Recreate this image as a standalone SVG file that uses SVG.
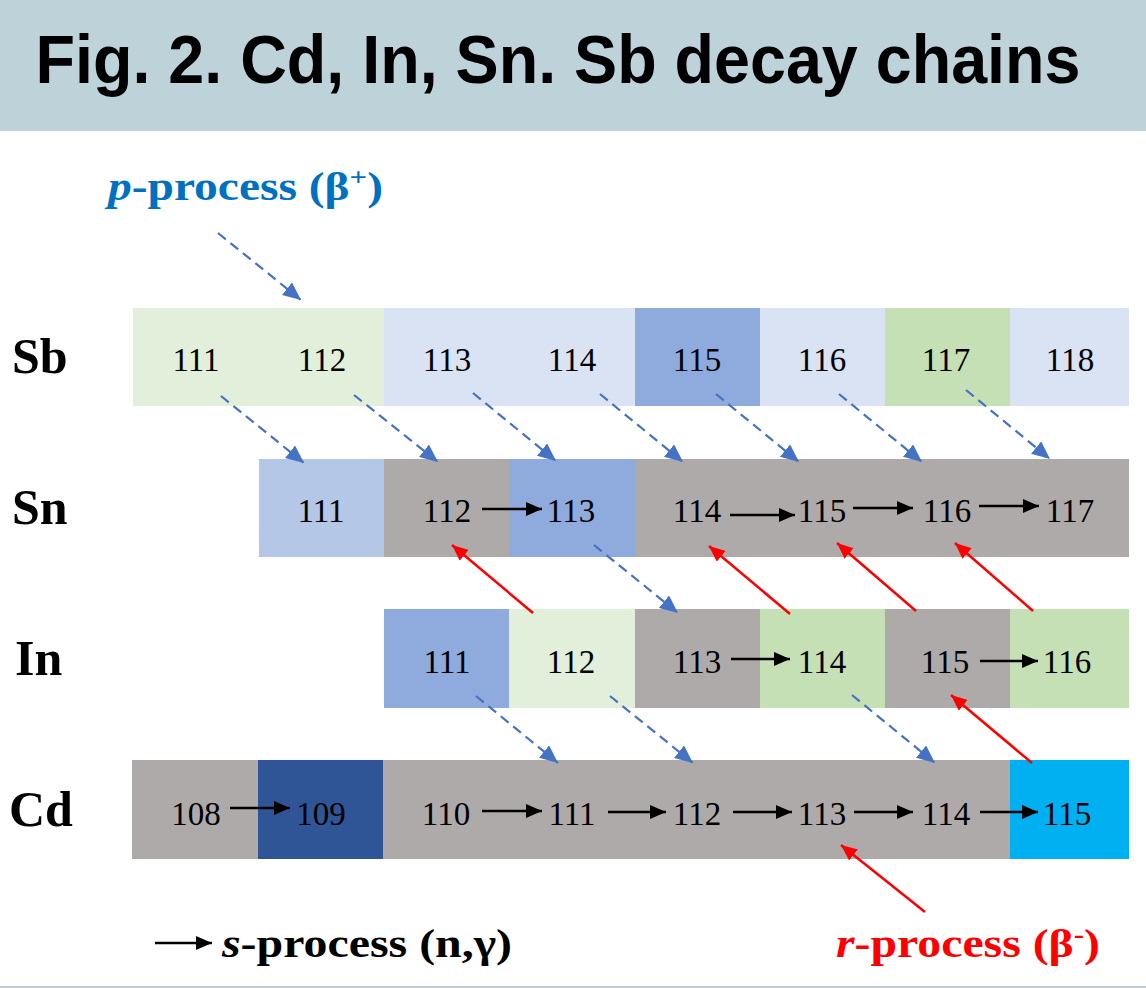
<svg xmlns="http://www.w3.org/2000/svg" width="1146" height="988" viewBox="0 0 1146 988">
  <style>
    .title { font-family: "Liberation Sans", Arial, sans-serif; font-weight: bold; font-size: 68px; fill: #000; }
    .elem { font-family: "Liberation Serif", "Times New Roman", serif; font-weight: bold; font-size: 50px; fill: #000; }
    .num { font-family: "Liberation Serif", "Times New Roman", serif; font-size: 33px; fill: #000; text-anchor: middle; }
    .legend { font-family: "Liberation Serif", "Times New Roman", serif; font-weight: bold; font-size: 40px; }
    .pblue { fill: #0070c0; }
    .rred { fill: #ff0000; }
    .sblack { fill: #000; }
    .gray { fill: #aeaaaa; }
    .lgreen { fill: #e2efda; }
    .mgreen { fill: #c5e0b4; }
    .lblue { fill: #dae3f3; }
    .pblue2 { fill: #b4c7e7; }
    .mblue { fill: #8faadc; }
    .dblue { fill: #2f5597; }
    .cyan { fill: #00b0f0; }
    .beta-plus { stroke: #4472c4; stroke-width: 2.2; stroke-dasharray: 10 6; fill: none; marker-end: url(#headBlue); }
    .beta-minus { stroke: #ff0000; stroke-width: 2.5; fill: none; marker-end: url(#headRed); }
    .capture { stroke: #000; stroke-width: 2.5; fill: none; marker-end: url(#headBlack); }
  </style>
  <defs>
    <marker id="headBlue" markerUnits="userSpaceOnUse" viewBox="0 0 18 16" markerWidth="18" markerHeight="16" refX="18" refY="8" orient="auto">
      <path d="M0,0 L18,8 L0,16 z" fill="#4472c4"/>
    </marker>
    <marker id="headRed" markerUnits="userSpaceOnUse" viewBox="0 0 16 14" markerWidth="16" markerHeight="14" refX="16" refY="7" orient="auto">
      <path d="M0,0 L16,7 L0,14 z" fill="#ff0000"/>
    </marker>
    <marker id="headBlack" markerUnits="userSpaceOnUse" viewBox="0 0 16 14" markerWidth="16" markerHeight="14" refX="16" refY="7" orient="auto">
      <path d="M0,0 L16,7 L0,14 z" fill="#000"/>
    </marker>
  </defs>

  <rect width="1146" height="988" fill="#ffffff"/>

  <!-- title bar -->
  <g id="title">
    <rect x="0" y="0" width="1146" height="131" fill="#bed2da"/>
    <text class="title" x="558" y="83" text-anchor="middle" textLength="1045" lengthAdjust="spacingAndGlyphs">Fig. 2. Cd, In, Sn. Sb decay chains</text>
  </g>

  <!-- element row labels -->
  <g id="labels">
    <text class="elem" x="12" y="373">Sb</text>
    <text class="elem" x="12" y="524">Sn</text>
    <text class="elem" x="15" y="675">In</text>
    <text class="elem" x="9" y="826">Cd</text>
  </g>

  <!-- Sb row -->
  <g id="row-Sb">
    <rect class="lgreen" x="133" y="308" width="126" height="98"/>
    <rect class="lgreen" x="258" y="308" width="126" height="98"/>
    <rect class="lblue" x="384" y="308" width="126" height="98"/>
    <rect class="lblue" x="509" y="308" width="126" height="98"/>
    <rect class="mblue" x="635" y="308" width="126" height="98"/>
    <rect class="lblue" x="760" y="308" width="126" height="98"/>
    <rect class="mgreen" x="885" y="308" width="126" height="98"/>
    <rect class="lblue" x="1010" y="308" width="119" height="98"/>
    <text class="num" x="196" y="371">111</text>
    <text class="num" x="322" y="371">112</text>
    <text class="num" x="447" y="371">113</text>
    <text class="num" x="572" y="371">114</text>
    <text class="num" x="697" y="371">115</text>
    <text class="num" x="822" y="371">116</text>
    <text class="num" x="946" y="371">117</text>
    <text class="num" x="1070" y="371">118</text>
  </g>

  <!-- Sn row -->
  <g id="row-Sn">
    <rect class="pblue2" x="259" y="459" width="126" height="98"/>
    <rect class="gray" x="384" y="459" width="126" height="98"/>
    <rect class="mblue" x="509" y="459" width="126" height="98"/>
    <rect class="gray" x="635" y="459" width="494" height="98"/>
    <text class="num" x="321" y="522">111</text>
    <text class="num" x="447" y="522">112</text>
    <text class="num" x="571" y="522">113</text>
    <text class="num" x="697" y="522">114</text>
    <text class="num" x="822" y="522">115</text>
    <text class="num" x="947" y="522">116</text>
    <text class="num" x="1070" y="522">117</text>
  </g>

  <!-- In row -->
  <g id="row-In">
    <rect class="mblue" x="384" y="609" width="126" height="99"/>
    <rect class="lgreen" x="509" y="609" width="126" height="99"/>
    <rect class="gray" x="635" y="609" width="126" height="99"/>
    <rect class="mgreen" x="760" y="609" width="126" height="99"/>
    <rect class="gray" x="885" y="609" width="126" height="99"/>
    <rect class="mgreen" x="1010" y="609" width="119" height="99"/>
    <text class="num" x="447" y="673">111</text>
    <text class="num" x="571" y="673">112</text>
    <text class="num" x="697" y="673">113</text>
    <text class="num" x="822" y="673">114</text>
    <text class="num" x="945" y="673">115</text>
    <text class="num" x="1067" y="673">116</text>
  </g>

  <!-- Cd row -->
  <g id="row-Cd">
    <rect class="gray" x="132" y="760" width="127" height="99"/>
    <rect class="dblue" x="258" y="760" width="126" height="99"/>
    <rect class="gray" x="383" y="760" width="628" height="99"/>
    <rect class="cyan" x="1010" y="760" width="119" height="99"/>
    <text class="num" x="196" y="825">108</text>
    <text class="num" x="321" y="825">109</text>
    <text class="num" x="446" y="825">110</text>
    <text class="num" x="572" y="825">111</text>
    <text class="num" x="697" y="825">112</text>
    <text class="num" x="822" y="825">113</text>
    <text class="num" x="946" y="825">114</text>
    <text class="num" x="1067" y="825">115</text>
  </g>

  <!-- connectors -->
  <g id="connectors">
    <!-- beta+ decays (dashed) -->
    <line class="beta-plus" x1="218" y1="233" x2="301" y2="300"/>
    <line class="beta-plus" x1="221" y1="396" x2="304" y2="463"/>
    <line class="beta-plus" x1="354" y1="395" x2="438" y2="462"/>
    <line class="beta-plus" x1="473" y1="393" x2="556" y2="461"/>
    <line class="beta-plus" x1="600" y1="394" x2="683" y2="462"/>
    <line class="beta-plus" x1="716" y1="394" x2="799" y2="462"/>
    <line class="beta-plus" x1="839" y1="394" x2="922" y2="462"/>
    <line class="beta-plus" x1="966" y1="390" x2="1050" y2="459"/>
    <line class="beta-plus" x1="594" y1="545" x2="678" y2="613"/>
    <line class="beta-plus" x1="476" y1="696" x2="558" y2="763"/>
    <line class="beta-plus" x1="610" y1="696" x2="693" y2="763"/>
    <line class="beta-plus" x1="852" y1="695" x2="935" y2="763"/>

    <!-- beta- decays (red) -->
    <line class="beta-minus" x1="533" y1="613" x2="452" y2="545"/>
    <line class="beta-minus" x1="790" y1="614" x2="709" y2="546"/>
    <line class="beta-minus" x1="916" y1="611" x2="837" y2="543"/>
    <line class="beta-minus" x1="1033" y1="611" x2="955" y2="543"/>
    <line class="beta-minus" x1="1032" y1="763" x2="951" y2="695"/>
    <line class="beta-minus" x1="925" y1="912" x2="841" y2="845"/>

    <!-- neutron captures (black) -->
    <line class="capture" x1="482" y1="509" x2="542" y2="509"/>
    <line class="capture" x1="730" y1="515" x2="795" y2="515"/>
    <line class="capture" x1="853" y1="508" x2="913" y2="508"/>
    <line class="capture" x1="979" y1="506" x2="1039" y2="506"/>
    <line class="capture" x1="731" y1="659" x2="790" y2="659"/>
    <line class="capture" x1="980" y1="661" x2="1038" y2="661"/>
    <line class="capture" x1="230" y1="808" x2="290" y2="808"/>
    <line class="capture" x1="482" y1="811" x2="542" y2="811"/>
    <line class="capture" x1="608" y1="812" x2="666" y2="812"/>
    <line class="capture" x1="733" y1="812" x2="792" y2="812"/>
    <line class="capture" x1="854" y1="812" x2="913" y2="812"/>
    <line class="capture" x1="980" y1="812" x2="1038" y2="812"/>
  </g>

  <!-- legend -->
  <g id="legend">
    <text class="legend pblue" x="108" y="200" textLength="275" lengthAdjust="spacingAndGlyphs"><tspan font-style="italic">p</tspan>-process (β<tspan font-size="26" dy="-14">+</tspan><tspan dy="14">)</tspan></text>
    <line class="capture" x1="155" y1="943" x2="212" y2="943"/>
    <text class="legend sblack" x="222" y="957" textLength="290" lengthAdjust="spacingAndGlyphs"><tspan font-style="italic">s</tspan>-process (n,γ)</text>
    <text class="legend rred" x="836" y="957" textLength="264" lengthAdjust="spacingAndGlyphs"><tspan font-style="italic">r</tspan>-process (β<tspan font-size="26" dy="-14">-</tspan><tspan dy="14">)</tspan></text>
  </g>

  <line x1="0" y1="987" x2="1146" y2="987" stroke="#bfcdd3" stroke-width="2"/>
</svg>
